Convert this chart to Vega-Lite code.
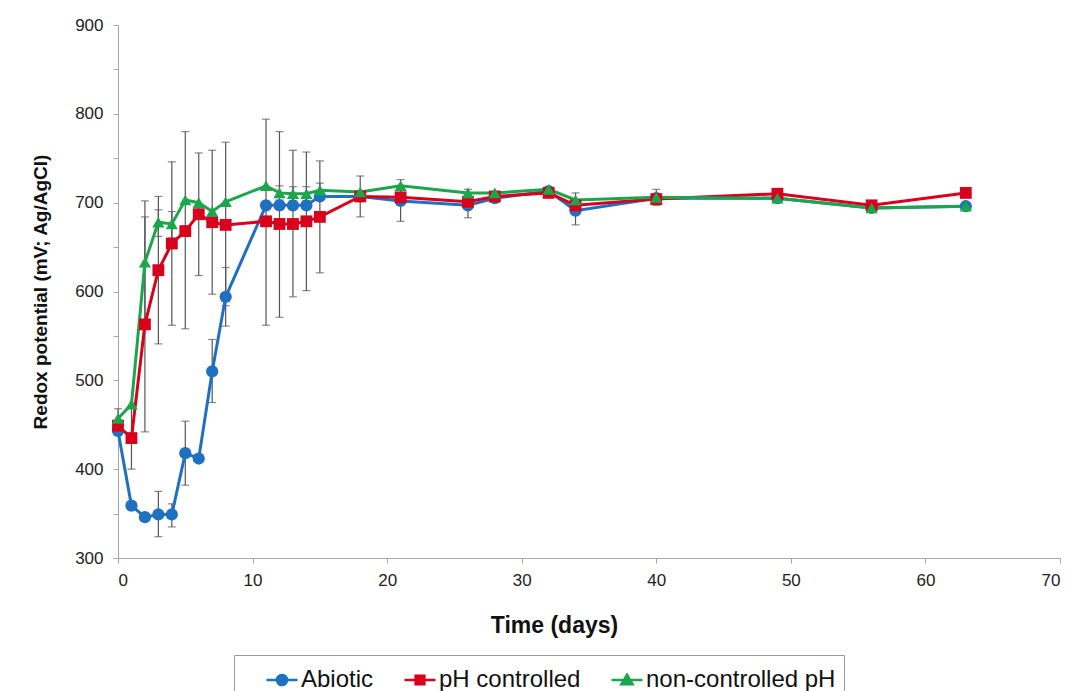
{
  "$schema": "https://vega.github.io/schema/vega-lite/v6.json",
  "width": 942,
  "height": 533,
  "autosize": {"type": "none"},
  "padding": {"left": 118, "top": 25, "right": 17, "bottom": 133},
  "background": "white",
  "config": {
    "font": "Liberation Sans",
    "view": {"stroke": null},
    "axis": {"grid": false, "domainColor": "#a6a6a6", "tickColor": "#a6a6a6", "labelColor": "#222", "titleColor": "#111", "labelFont": "Liberation Sans", "titleFont": "Liberation Sans"}
  },
  "data": {"values": [
    {"series": "Abiotic", "day": 0, "v": 443},
    {"series": "Abiotic", "day": 1, "v": 359},
    {"series": "Abiotic", "day": 2, "v": 346},
    {"series": "Abiotic", "day": 3, "v": 349, "lo": 324, "hi": 375},
    {"series": "Abiotic", "day": 4, "v": 349, "lo": 335, "hi": 361},
    {"series": "Abiotic", "day": 5, "v": 418, "lo": 382, "hi": 454},
    {"series": "Abiotic", "day": 6, "v": 412},
    {"series": "Abiotic", "day": 7, "v": 510, "lo": 475, "hi": 546},
    {"series": "Abiotic", "day": 8, "v": 594, "lo": 561, "hi": 627},
    {"series": "Abiotic", "day": 11, "v": 697},
    {"series": "Abiotic", "day": 12, "v": 697},
    {"series": "Abiotic", "day": 13, "v": 697},
    {"series": "Abiotic", "day": 14, "v": 697},
    {"series": "Abiotic", "day": 15, "v": 707},
    {"series": "Abiotic", "day": 18, "v": 707},
    {"series": "Abiotic", "day": 21, "v": 702, "lo": 679, "hi": 726},
    {"series": "Abiotic", "day": 26, "v": 697, "lo": 683, "hi": 715},
    {"series": "Abiotic", "day": 28, "v": 705},
    {"series": "Abiotic", "day": 32, "v": 713},
    {"series": "Abiotic", "day": 34, "v": 691, "lo": 675, "hi": 711},
    {"series": "Abiotic", "day": 40, "v": 705, "lo": 697, "hi": 715},
    {"series": "Abiotic", "day": 49, "v": 705},
    {"series": "Abiotic", "day": 56, "v": 694},
    {"series": "Abiotic", "day": 63, "v": 696},
    {"series": "pH controlled", "day": 0, "v": 449},
    {"series": "pH controlled", "day": 1, "v": 435, "lo": 400, "hi": 470},
    {"series": "pH controlled", "day": 2, "v": 563, "lo": 442, "hi": 684},
    {"series": "pH controlled", "day": 3, "v": 624, "lo": 541, "hi": 707},
    {"series": "pH controlled", "day": 4, "v": 654, "lo": 562, "hi": 746},
    {"series": "pH controlled", "day": 5, "v": 668, "lo": 558, "hi": 780},
    {"series": "pH controlled", "day": 6, "v": 687, "lo": 618, "hi": 756},
    {"series": "pH controlled", "day": 7, "v": 678, "lo": 597, "hi": 759},
    {"series": "pH controlled", "day": 8, "v": 675, "lo": 584, "hi": 768},
    {"series": "pH controlled", "day": 11, "v": 679, "lo": 562, "hi": 794},
    {"series": "pH controlled", "day": 12, "v": 676, "lo": 571, "hi": 780},
    {"series": "pH controlled", "day": 13, "v": 676, "lo": 594, "hi": 759},
    {"series": "pH controlled", "day": 14, "v": 679, "lo": 601, "hi": 757},
    {"series": "pH controlled", "day": 15, "v": 684, "lo": 621, "hi": 747},
    {"series": "pH controlled", "day": 18, "v": 707, "lo": 684, "hi": 730},
    {"series": "pH controlled", "day": 21, "v": 706},
    {"series": "pH controlled", "day": 26, "v": 701},
    {"series": "pH controlled", "day": 28, "v": 707},
    {"series": "pH controlled", "day": 32, "v": 711},
    {"series": "pH controlled", "day": 34, "v": 697},
    {"series": "pH controlled", "day": 40, "v": 704},
    {"series": "pH controlled", "day": 49, "v": 710},
    {"series": "pH controlled", "day": 56, "v": 697},
    {"series": "pH controlled", "day": 63, "v": 711},
    {"series": "non-controlled pH", "day": 0, "v": 457, "lo": 446, "hi": 468},
    {"series": "non-controlled pH", "day": 1, "v": 473},
    {"series": "non-controlled pH", "day": 2, "v": 633, "lo": 562, "hi": 702},
    {"series": "non-controlled pH", "day": 3, "v": 678, "lo": 662, "hi": 692},
    {"series": "non-controlled pH", "day": 4, "v": 676, "lo": 660, "hi": 690},
    {"series": "non-controlled pH", "day": 5, "v": 703},
    {"series": "non-controlled pH", "day": 6, "v": 700},
    {"series": "non-controlled pH", "day": 7, "v": 690},
    {"series": "non-controlled pH", "day": 8, "v": 701},
    {"series": "non-controlled pH", "day": 11, "v": 719},
    {"series": "non-controlled pH", "day": 12, "v": 711, "lo": 703, "hi": 719},
    {"series": "non-controlled pH", "day": 13, "v": 710, "lo": 702, "hi": 718},
    {"series": "non-controlled pH", "day": 14, "v": 710, "lo": 702, "hi": 718},
    {"series": "non-controlled pH", "day": 15, "v": 714, "lo": 706, "hi": 722},
    {"series": "non-controlled pH", "day": 18, "v": 712},
    {"series": "non-controlled pH", "day": 21, "v": 719},
    {"series": "non-controlled pH", "day": 26, "v": 711},
    {"series": "non-controlled pH", "day": 28, "v": 711},
    {"series": "non-controlled pH", "day": 32, "v": 715},
    {"series": "non-controlled pH", "day": 34, "v": 703},
    {"series": "non-controlled pH", "day": 40, "v": 706},
    {"series": "non-controlled pH", "day": 49, "v": 705},
    {"series": "non-controlled pH", "day": 56, "v": 694},
    {"series": "non-controlled pH", "day": 63, "v": 696}
  ]},
  "encoding": {
    "x": {"field": "day", "type": "quantitative", "scale": {"domain": [0, 70], "nice": false},
      "axis": {"title": "Time (days)", "values": [0,10,20,30,40,50,60,70], "labelFontSize": 17, "titleFontSize": 23, "titleFontWeight": "bold", "tickSize": 5, "labelPadding": 9, "titlePadding": 26, "titleX": 436}},
    "y": {"field": "v", "type": "quantitative", "scale": {"domain": [300, 900], "nice": false, "zero": false},
      "axis": {"title": "Redox potential (mV; Ag/AgCl)", "values": [300,350,400,450,500,550,600,650,700,750,800,850,900], "labelExpr": "datum.value % 100 == 0 ? datum.label : ''", "labelFontSize": 17, "titleFontSize": 19, "titleFontWeight": "bold", "tickSize": 5, "labelPadding": 10, "titlePadding": 24}}
  },
  "layer": [
    {
      "transform": [{"filter": "isValid(datum.lo)"}],
      "mark": {"type": "rule", "color": "#555", "strokeWidth": 1.2},
      "encoding": {"y": {"field": "lo", "type": "quantitative"}, "y2": {"field": "hi"}}
    },
    {
      "transform": [{"filter": "isValid(datum.lo)"}],
      "mark": {"type": "tick", "color": "#555", "thickness": 1.2, "size": 8, "orient": "horizontal"},
      "encoding": {"y": {"field": "lo", "type": "quantitative"}}
    },
    {
      "transform": [{"filter": "isValid(datum.hi)"}],
      "mark": {"type": "tick", "color": "#555", "thickness": 1.2, "size": 8, "orient": "horizontal"},
      "encoding": {"y": {"field": "hi", "type": "quantitative"}}
    },
    {
      "mark": {"type": "line", "strokeWidth": 3},
      "encoding": {
        "color": {"field": "series", "type": "nominal", "scale": {"domain": ["Abiotic", "pH controlled", "non-controlled pH"], "range": ["#1f70c1", "#d9001b", "#1ca64c"]},
          "legend": {"orient": "none", "legendX": 116, "legendY": 630, "direction": "horizontal", "title": null, "labelFontSize": 24, "labelColor": "#111", "labelFont": "Liberation Sans", "labelLimit": 400, "strokeColor": "#999", "padding": 8, "symbolSize": 961, "symbolStrokeWidth": 2.5, "columnPadding": 6, "labelOffset": 2, "symbolOffset": 23,
            "symbolType": "M-1,0H1M0.33,0A0.33,0.33,0,1,1,-0.33,0A0.33,0.33,0,1,1,0.33,0Z",
            "encode": {"symbols": {"update": {
              "shape": {"signal": "datum.value == 'Abiotic' ? 'M-1,0H1M0.33,0A0.33,0.33,0,1,1,-0.33,0A0.33,0.33,0,1,1,0.33,0Z' : datum.value == 'pH controlled' ? 'M-1,0H1M-0.28,-0.28H0.28V0.28H-0.28Z' : 'M-1,0H1M0,-0.34L0.36,0.28H-0.36Z'"},
              "fill": {"signal": "scale('color', datum.value)"},
              "stroke": {"signal": "scale('color', datum.value)"},
              "strokeWidth": {"value": 2.5}
            }}}}},
        "order": {"field": "day"}
      }
    },
    {
      "transform": [{"filter": "datum.series == 'Abiotic'"}],
      "mark": {"type": "point", "filled": true, "opacity": 1, "size": 150, "shape": "circle"},
      "encoding": {"color": {"field": "series", "type": "nominal", "legend": null}}
    },
    {
      "transform": [{"filter": "datum.series == 'pH controlled'"}],
      "mark": {"type": "point", "filled": true, "opacity": 1, "size": 140, "shape": "square"},
      "encoding": {"color": {"field": "series", "type": "nominal", "legend": null}}
    },
    {
      "transform": [{"filter": "datum.series == 'non-controlled pH'"}],
      "mark": {"type": "point", "filled": true, "opacity": 1, "size": 150, "shape": "triangle-up"},
      "encoding": {"color": {"field": "series", "type": "nominal", "legend": null}}
    }
  ]
}
